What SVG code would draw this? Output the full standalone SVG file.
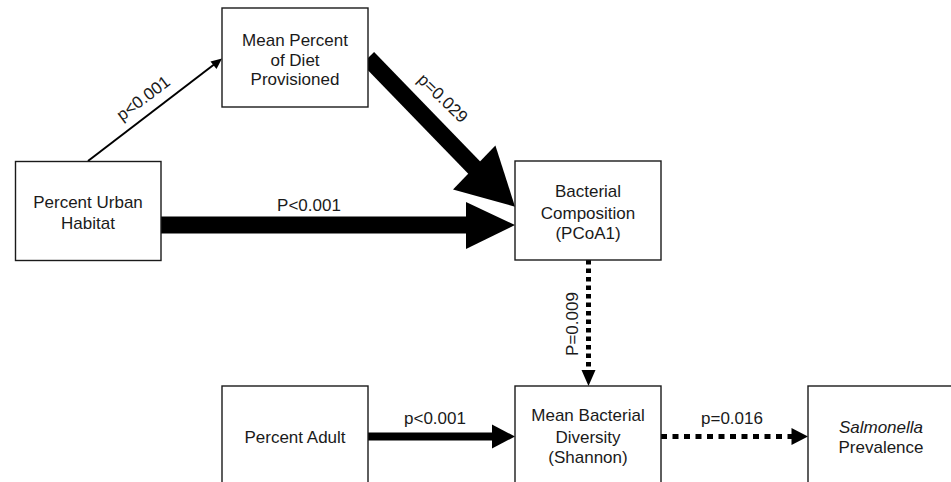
<svg xmlns="http://www.w3.org/2000/svg" width="951" height="482" viewBox="0 0 951 482">
<style>
.box{fill:#fff;stroke:#1a1a1a;stroke-width:1.4}
text{font-family:"Liberation Sans",Arial,sans-serif;font-size:17px;fill:#1a1a1a;text-anchor:middle}
.solid{stroke:#000;fill:none}
.dot{stroke:#000;fill:none;stroke-width:5}
.head{fill:#000;stroke:none}
</style>
<rect width="951" height="482" fill="#fff"/>
<g id="connectors">
  <g id="e-urban-diet">
    <line class="solid" x1="88" y1="161" x2="216" y2="63" stroke-width="2"/>
    <polygon class="head" points="222,58.5 210.5,61.5 216.5,69"/>
    <text transform="translate(143,98) rotate(-37)" dy="6">p&lt;0.001</text>
  </g>
  <g id="e-diet-comp">
    <line class="solid" x1="368" y1="58" x2="477" y2="170.5" stroke-width="17"/>
    <polygon class="head" points="515,206.7 453,189.6 495.4,145.4"/>
    <text transform="translate(443,98) rotate(44)" dy="6">p=0.029</text>
  </g>
  <g id="e-urban-comp">
    <line class="solid" x1="161" y1="225" x2="470" y2="225" stroke-width="17"/>
    <polygon class="head" points="515,225 466,202 466,249"/>
    <text x="309" y="211">P&lt;0.001</text>
  </g>
  <g id="e-comp-div">
    <line class="dot" x1="588.5" y1="260" x2="588.5" y2="371" stroke-dasharray="4.5 4"/>
    <polygon class="head" points="588.5,386 581.5,370 595.5,370"/>
    <text transform="translate(572,324) rotate(-90)" dy="6">P=0.009</text>
  </g>
  <g id="e-adult-div">
    <line class="solid" x1="368" y1="436.5" x2="495" y2="436.5" stroke-width="8"/>
    <polygon class="head" points="515,436.5 492,424.5 492,448.5"/>
    <text x="435" y="424">p&lt;0.001</text>
  </g>
  <g id="e-div-salm">
    <line class="dot" x1="661" y1="436.5" x2="793" y2="436.5" stroke-dasharray="6 5.5"/>
    <polygon class="head" points="808,436.5 791.5,428 791.5,445"/>
    <text x="732" y="424">p=0.016</text>
  </g>
</g>
<g id="n-diet">
  <rect class="box" x="222" y="8" width="146" height="99"/>
  <text x="295" y="46">Mean Percent</text>
  <text x="295" y="65.5">of Diet</text>
  <text x="295" y="85">Provisioned</text>
</g>
<g id="n-urban">
  <rect class="box" x="15.5" y="161.5" width="145.5" height="99"/>
  <text x="88" y="207.5">Percent Urban</text>
  <text x="88" y="229">Habitat</text>
</g>
<g id="n-comp">
  <rect class="box" x="515" y="161" width="146" height="99"/>
  <text x="588" y="197">Bacterial</text>
  <text x="588" y="218.5">Composition</text>
  <text x="588" y="239">(PCoA1)</text>
</g>
<g id="n-adult">
  <rect class="box" x="222" y="386" width="146" height="99"/>
  <text x="295" y="442.5">Percent Adult</text>
</g>
<g id="n-div">
  <rect class="box" x="515" y="386" width="146" height="99"/>
  <text x="588" y="421">Mean Bacterial</text>
  <text x="588" y="442.5">Diversity</text>
  <text x="588" y="463">(Shannon)</text>
</g>
<g id="n-salm">
  <rect class="box" x="808" y="386" width="146" height="99"/>
  <text x="881" y="432.5" font-style="italic">Salmonella</text>
  <text x="881" y="452.5">Prevalence</text>
</g>
</svg>
